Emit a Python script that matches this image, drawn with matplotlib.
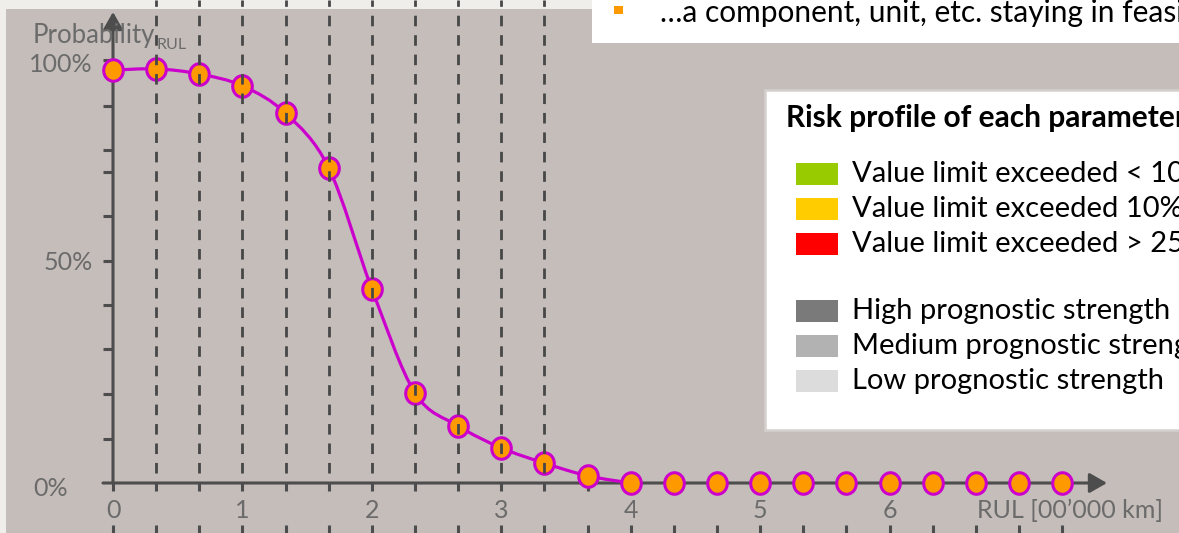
import numpy as np
import matplotlib
matplotlib.use("Agg")
import matplotlib.pyplot as plt
from matplotlib.path import Path
from matplotlib.patches import PathPatch, Rectangle

# data: RUL in 00'000 km, probability in %
rul = [k / 3 for k in range(23)]
prob = [97.6, 97.9, 96.7, 93.9, 87.4, 74.5, 45.9, 21.3, 13.5, 8.3, 4.7, 1.7,
        0, 0, 0, 0, 0, 0, 0, 0, 0, 0, 0]
dashed_x = [k / 3 for k in range(1, 11)]
x_labels = ["0", "1", "2", "3", "4", "5", "6"]
y_tick_pos = [10.4, 21.0, 31.7, 42.1, 52.5, 63.1, 73.5, 78.7, 89.1, 100]
legend_labels = ["Value limit exceeded < 10%", "Value limit exceeded 10% - 25%",
                 "Value limit exceeded > 25%", None,
                 "High prognostic strength", "Medium prognostic strength",
                 "Low prognostic strength"]
legend_colors = ["#99cc00", "#ffcc00", "#ff0000", None,
                 "#7a7a7a", "#b2b2b2", "#dcdcdc"]

W, H = 1179, 533
BG = "#c4bdba"
AXC = "#4d4d4d"
TXT = "#6b6b6b"
FONT = "Lato"

fig = plt.figure(figsize=(W / 100, H / 100), dpi=100)
fig.patch.set_facecolor("#efeeeb")

def fx(x):
    return x / W

def fy(y):
    return 1 - y / H

# slide background
fig.add_artist(Rectangle((fx(6), 0), 1, fy(9), transform=fig.transFigure,
                         facecolor=BG, edgecolor="none", zorder=0))

ax = fig.add_axes([0, 0, 1, 1])
ax.set_facecolor("none")
ax.axis("off")
# 43.14 px per third of a unit, 4.23 px per percent
ux = 43.14 * 3
uy = 4.23
ax.set_xlim(-113 / ux, (W - 113) / ux)
ax.set_ylim(-(H - 483) / uy, 483 / uy)

# white boxes
fig.add_artist(Rectangle((fx(592), fy(43)), 1, 1, transform=fig.transFigure,
                         facecolor="white", edgecolor="none", zorder=1))
fig.add_artist(Rectangle((fx(765), fy(430)), 1, (430 - 90) / H,
                         transform=fig.transFigure, facecolor="white",
                         edgecolor="#d4d0ce", linewidth=1.8, zorder=1))

# axes lines with arrows
ax.annotate("", xy=(0, 483 / uy - 12 / uy), xytext=(0, 0),
            arrowprops=dict(arrowstyle="-|>,head_length=0.7,head_width=0.4",
                            color=AXC, lw=2.2, shrinkA=0, shrinkB=0,
                            mutation_scale=15), zorder=2)
ax.annotate("", xy=((1107 - 113) / ux, 0), xytext=(-10 / ux, 0),
            arrowprops=dict(arrowstyle="-|>,head_length=0.7,head_width=0.4",
                            color=AXC, lw=2.2, shrinkA=0, shrinkB=0,
                            mutation_scale=15), zorder=2)
# y ticks
for t in y_tick_pos:
    ax.plot([-10 / ux, 0], [t, t], color=AXC, lw=2.2, solid_capstyle="butt", zorder=2)
# x ticks below the axis and at the bottom edge
for x in rul:
    ax.plot([x, x], [0, -8 / uy], color=AXC, lw=2.2, solid_capstyle="butt", zorder=2)
    ax.plot([x, x], [-(525 - 483) / uy, -(H - 483) / uy], color=AXC, lw=2.2,
            solid_capstyle="butt", zorder=2)

# smoothed line through the non-zero part
n = 13
pts = np.column_stack([rul[:n], prob[:n]])
verts = [pts[0]]
codes = [Path.MOVETO]
for i in range(n - 1):
    p0 = pts[max(i - 1, 0)]
    p1 = pts[i]
    p2 = pts[i + 1]
    p3 = pts[min(i + 2, n - 1)]
    verts += [p1 + (p2 - p0) / 6, p2 - (p3 - p1) / 6, p2]
    codes += [Path.CURVE4] * 3
ax.add_patch(PathPatch(Path(verts, codes), facecolor="none", edgecolor="#cc00cc",
                       lw=2.3, zorder=3))

# markers
ell = Path.unit_circle()
ell = Path(ell.vertices * [1, 1.1], ell.codes)
ax.plot(rul, prob, linestyle="none", marker=ell, markersize=15.5,
        markerfacecolor="#ff9900", markeredgecolor="#cc00cc",
        markeredgewidth=2.2, zorder=4)

# dashed verticals on top
for x in dashed_x:
    ax.plot([x, x], [10 / uy, 483 / uy], color="#474747", lw=2.0,
            linestyle=(0, (3.8, 3.2)), zorder=5)

# axis texts
ax.text(fx(33), fy(488), "0%", transform=fig.transFigure, ha="left", va="center",
        fontsize=18, color=TXT, family=FONT)
ax.text(fx(93), fy(262), "50%", transform=fig.transFigure, ha="right", va="center",
        fontsize=18, color=TXT, family=FONT)
ax.text(fx(93), fy(65), "100%", transform=fig.transFigure, ha="right", va="center",
        fontsize=18, color=TXT, family=FONT)
ax.text(fx(33), fy(35), "Probability", transform=fig.transFigure, ha="left",
        va="center", fontsize=18.5, color=TXT, family=FONT, zorder=6)
ax.text(fx(157), fy(45), "RUL", transform=fig.transFigure, ha="left",
        va="center", fontsize=11.5, color=TXT, family=FONT, zorder=6)
for i, lab in enumerate(x_labels):
    ax.text(i, -(510 - 483) / uy, lab, ha="center", va="center",
            fontsize=18, color=TXT, family=FONT)
ax.text(fx(1163), fy(510), "RUL [00\u2019000 km]", transform=fig.transFigure,
        ha="right", va="center", fontsize=18, color=TXT, family=FONT)

# top bullet text
fig.add_artist(Rectangle((fx(614), fy(14)), 9 / W, 8 / H, transform=fig.transFigure,
                         facecolor="#ff9900", edgecolor="none", zorder=2))
fig.text(fx(660), fy(22), "\u2026a component, unit, etc. staying in feasible range",
         ha="left", va="baseline", fontsize=21.5, color="black", family=FONT, zorder=3)

# legend
fig.text(fx(786), fy(118), "Risk profile of each parameter", ha="left", va="center",
         fontsize=21.5, fontweight="bold", color="black", family=FONT, zorder=3)
ys = [174, 209, 244, 276, 311, 346, 381]
for y, lab, col in zip(ys, legend_labels, legend_colors):
    if lab is None:
        continue
    fig.add_artist(Rectangle((fx(796), fy(y + 11)), 42 / W, 22 / H,
                             transform=fig.transFigure, facecolor=col,
                             edgecolor="none", zorder=2))
    fig.text(fx(852), fy(y), lab, ha="left", va="center", fontsize=21,
             color="black", family=FONT, zorder=3)

fig.savefig("out.png", dpi=100, facecolor=fig.get_facecolor())
